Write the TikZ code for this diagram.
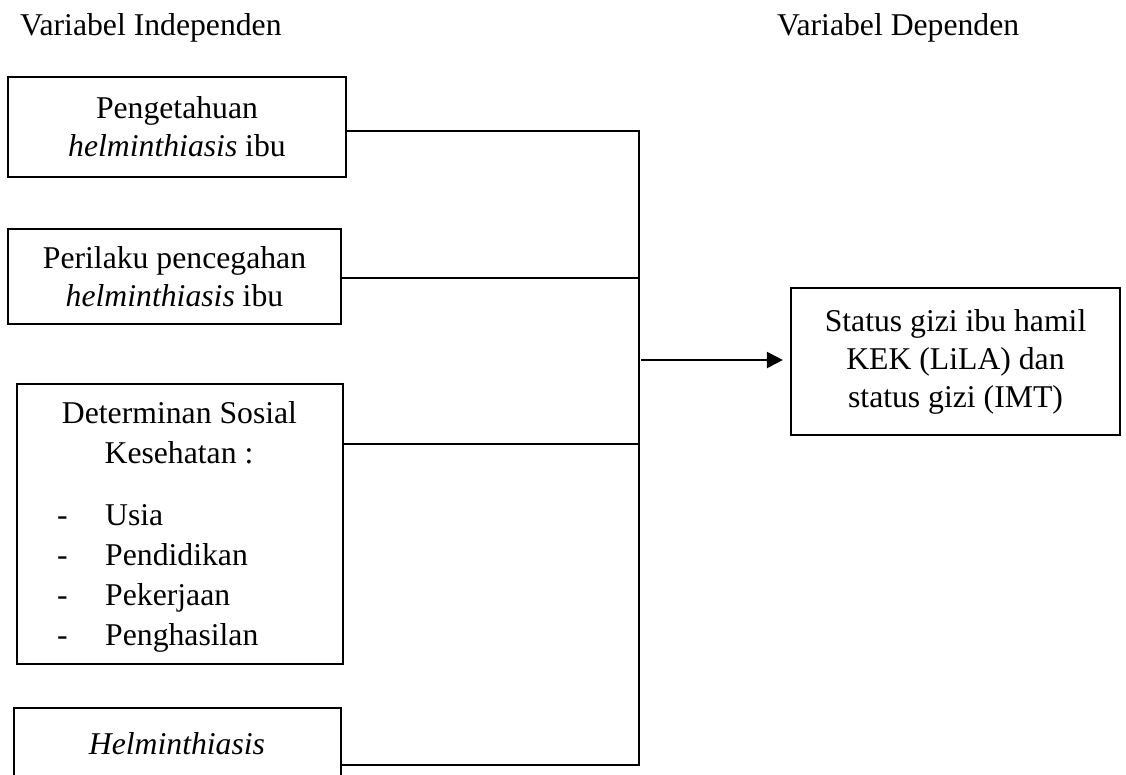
\documentclass[tikz,border=0pt]{standalone}
\usepackage{fontspec}
\setmainfont{Liberation Serif}
\usetikzlibrary{arrows.meta,calc}
\begin{document}
\begin{tikzpicture}[x=1pt,y=-1pt,
  every node/.style={font=\fontsize{31.7}{38}\selectfont},
  varbox/.style={draw,line width=2.2pt,rectangle,inner sep=0pt,align=center},
  conn/.style={line width=2.2pt},
  lbl/.style={inner sep=0pt,anchor=base west}]
\useasboundingbox (0,0) rectangle (1126,774);
% titles
\node[lbl] (t1) at (20,35) {Variabel Independen};
\node[lbl] (t2) at (777,35) {Variabel Dependen};
% boxes
\node[varbox,minimum width=338pt,minimum height=100pt] (b1) at (177,127) {Pengetahuan\\\textit{helminthiasis} ibu};
\node[varbox,minimum width=333pt,minimum height=95pt] (b2) at (174.5,276.5) {Perilaku pencegahan\\\textit{helminthiasis} ibu};
\node[varbox,minimum width=326pt,minimum height=280pt] (b3) at (180,524) {};
\node[lbl,anchor=base] (b3a) at (179.5,423) {Determinan Sosial};
\node[lbl,anchor=base] (b3b) at (179,463) {Kesehatan :};
\foreach \y/\t/\n in {525/Usia/i1,565/Pendidikan/i2,605/Pekerjaan/i3,645/Penghasilan/i4}{
  \node[lbl] (d\n) at (57,\y) {-};
  \node[lbl] (\n) at (105,\y) {\t};
}
\node[varbox,minimum width=327pt,minimum height=90pt] (b4) at (177.5,753) {};
\node[lbl,anchor=base] (b4t) at (177,754) {\textit{Helminthiasis}};
\node[varbox,minimum width=329pt,minimum height=147pt] (dep) at (955.5,361.5) {Status gizi ibu hamil\\KEK (LiLA) dan\\status gizi (IMT)};
% spine
\coordinate (c1) at (639,131);
\coordinate (c2) at (639,278);
\coordinate (c3) at (639,444);
\coordinate (c4) at (639,765);
\coordinate (arr) at (641,360);
\draw[conn] (b1.east |- c1) -- (c1);
\draw[conn] (b2.east |- c2) -- (c2);
\draw[conn] (b3.east |- c3) -- (c3);
\draw[conn] (b4.east |- c4) -- (c4);
\draw[conn,line cap=rect] (c1) -- (c4);
\draw[conn,-{Triangle[length=16pt,width=16pt]},shorten >=7pt] (arr) -- (dep.west |- arr);
\end{tikzpicture}
\end{document}
